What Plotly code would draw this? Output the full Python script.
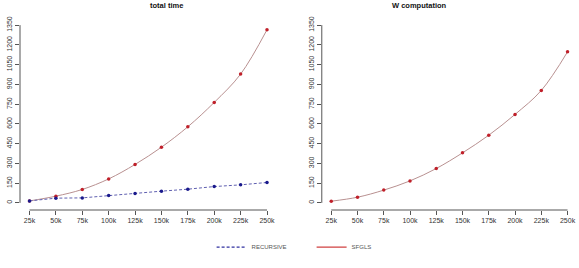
import plotly.graph_objects as go

sizes = [25, 50, 75, 100, 125, 150, 175, 200, 225, 250]
size_labels = ["25k", "50k", "75k", "100k", "125k", "150k", "175k", "200k", "225k", "250k"]
total_sfgls = [15, 51, 102, 182, 292, 423, 578, 763, 978, 1315]
total_recursive = [15, 36, 38, 56, 71, 89, 104, 124, 137, 155]
w_sfgls = [13, 43, 97, 167, 261, 380, 514, 672, 854, 1147]
y_ticks = [0, 150, 300, 450, 600, 750, 900, 1050, 1200, 1350]

RED_LINE = "#b89090"
RED_MK = "#c0202a"
BLUE_LINE = "#6060b0"
BLUE_MK = "#1a1a8c"
GRAY = "#555555"

fig = go.Figure()

fig.add_trace(go.Scatter(x=sizes, y=total_sfgls, mode="lines+markers", xaxis="x", yaxis="y",
                         line=dict(color=RED_LINE, width=1, shape="spline"),
                         marker=dict(color=RED_MK, size=3.5), showlegend=False))
fig.add_trace(go.Scatter(x=sizes, y=total_recursive, mode="lines+markers", xaxis="x", yaxis="y",
                         line=dict(color=BLUE_LINE, width=1, dash="3px,2px"),
                         marker=dict(color=BLUE_MK, size=3.5), showlegend=False))
fig.add_trace(go.Scatter(x=sizes, y=w_sfgls, mode="lines+markers", xaxis="x2", yaxis="y2",
                         line=dict(color=RED_LINE, width=1, shape="spline"),
                         marker=dict(color=RED_MK, size=3.5), showlegend=False))

# legend-only entries
fig.add_trace(go.Scatter(x=[None], y=[None], mode="lines", name="RECURSIVE",
                         line=dict(color="#3030a0", width=1.2, dash="3px,2px")))
fig.add_trace(go.Scatter(x=[None], y=[None], mode="lines", name="SFGLS",
                         line=dict(color="#d04040", width=1.2)))

xa = dict(range=[16, 259], tickvals=sizes, ticktext=size_labels, showgrid=False, zeroline=False,
          showline=False, ticks="outside", ticklen=4, tickcolor=GRAY,
          tickfont=dict(family="Liberation Sans", size=7, color="#333333"))
ya = dict(range=[-54, 1404], tickvals=y_ticks, ticktext=[str(v) for v in y_ticks], showgrid=False,
          zeroline=False, showline=False, ticks="outside", ticklen=4, tickcolor=GRAY, tickangle=-90,
          tickfont=dict(family="Liberation Sans", size=7, color="#333333"))

fig.update_layout(
    width=579, height=268,
    margin=dict(l=20, r=2, t=18, b=58, autoexpand=False),
    paper_bgcolor="white", plot_bgcolor="white",
    xaxis=dict(domain=[0, 0.4605], anchor="y", **xa),
    yaxis=dict(domain=[0, 1], anchor="x", **ya),
    xaxis2=dict(domain=[0.5418, 1], anchor="y2", **xa),
    yaxis2=dict(domain=[0, 1], anchor="x2", **ya),
    legend=dict(orientation="h", x=0.344, xanchor="left", y=-0.193, yanchor="middle",
                font=dict(family="Liberation Sans", size=6, color=GRAY),
                itemwidth=30, entrywidth=55, bgcolor="rgba(0,0,0,0)"),
    annotations=[
        dict(text="<b>total time</b>", x=0.2302, xref="paper", y=1.0, yref="paper", yshift=13,
             yanchor="middle", showarrow=False, font=dict(family="Liberation Sans", size=7.5, color="#111111")),
        dict(text="<b>W computation</b>", x=0.7709, xref="paper", y=1.0, yref="paper", yshift=13,
             yanchor="middle", showarrow=False, font=dict(family="Liberation Sans", size=7.5, color="#111111")),
    ],
    shapes=[
        dict(type="line", xref="x", yref="y domain", x0=25, x1=250, y0=0, y1=0, line=dict(color=GRAY, width=1)),
        dict(type="line", xref="x domain", yref="y", x0=0, x1=0, y0=0, y1=1350, line=dict(color=GRAY, width=1)),
        dict(type="line", xref="x2", yref="y2 domain", x0=25, x1=250, y0=0, y1=0, line=dict(color=GRAY, width=1)),
        dict(type="line", xref="x2 domain", yref="y2", x0=0, x1=0, y0=0, y1=1350, line=dict(color=GRAY, width=1)),
    ],
)

fig.write_html("out.html")
